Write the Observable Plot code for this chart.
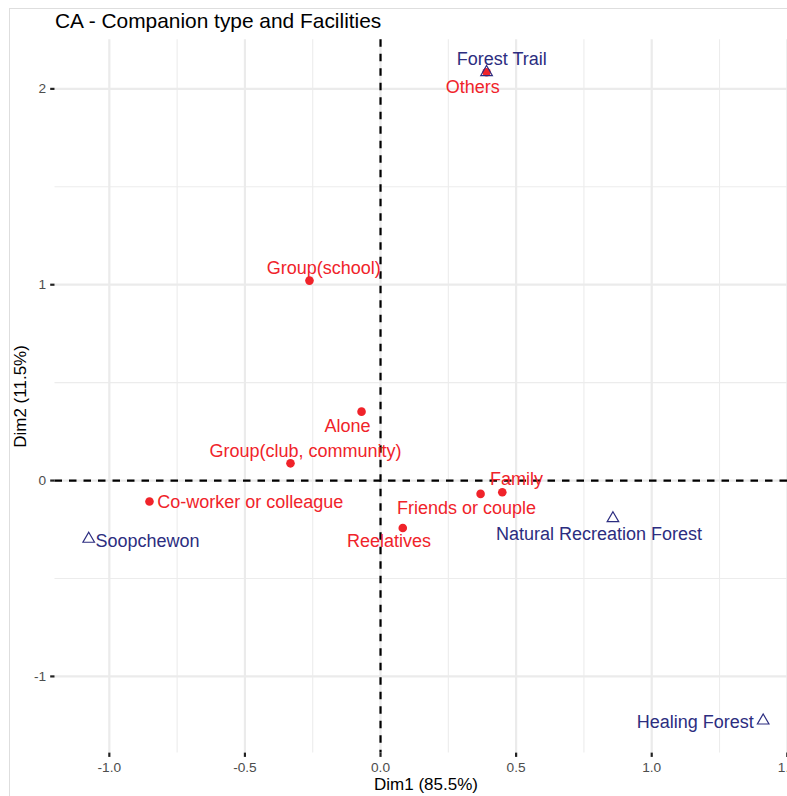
<!DOCTYPE html>
<html>
<head>
<meta charset="utf-8">
<script src="https://cdn.jsdelivr.net/npm/d3@7"></script>
<script src="https://cdn.jsdelivr.net/npm/@observablehq/plot@0.6"></script>
<style>
  html, body { margin: 0; padding: 0; overflow: hidden; background: #fff; width: 787px; height: 796px; }
  body { position: relative; font-family: "Liberation Sans", Arial, sans-serif; }
  #frame { position: absolute; left: 8.5px; top: 7.5px; width: 2000px; height: 2000px;
           border-left: 1px solid #dedede; border-top: 1px solid #dedede; }
  #title { position: absolute; left: 55px; top: 10.5px; font-size: 20.9px; line-height: 20.9px;
           color: #000; white-space: nowrap; }
  #chart { position: absolute; left: 0; top: 34px; width: 800px; }
  #chart svg { max-width: none !important; width: 800px !important; height: 762px !important; }
</style>
</head>
<body>
<div id="frame"></div>
<div id="title">CA - Companion type and Facilities</div>
<div id="chart"></div>
<script>
// ---- Data ----
const companionNames = ["Alone", "Family", "Friends or couple", "Reelatives",
  "Co-worker or colleague", "Group(school)", "Group(club, community)", "Others"];
const companionDim1 = [-0.070, 0.449, 0.369, 0.082, -0.852, -0.262, -0.332, 0.391];
const companionDim2 = [0.352, -0.060, -0.068, -0.242, -0.107, 1.021, 0.088, 2.085];

const facilityNames = ["Forest Trail", "Natural Recreation Forest", "Healing Forest", "Soopchewon"];
const facilityDim1 = [0.391, 0.857, 1.411, -1.076];
const facilityDim2 = [2.085, -0.193, -1.226, -0.298];

const xMajorTicks = [-1, -0.5, 0, 0.5, 1, 1.5];
const xMinorTicks = [-0.75, -0.25, 0.25, 0.75, 1.25];
const yMajorTicks = [-1, 0, 1, 2];
const yMinorTicks = [-0.5, 0.5, 1.5];

const xTitle = "Dim1 (85.5%)";
const yTitle = "Dim2 (11.5%)";

// ---- Label nudges (pixels: dx, dy, anchor) ----
const labelNudge = {
  "Alone": [-14, 15, "middle"],
  "Family": [14.3, -13, "middle"],
  "Friends or couple": [-14, 14, "middle"],
  "Reelatives": [-13.8, 13.4, "middle"],
  "Co-worker or colleague": [7.7, 1.2, "start"],
  "Group(school)": [14.3, -12.3, "middle"],
  "Group(club, community)": [15, -12, "middle"],
  "Others": [-13.7, 15.3, "middle"],
  "Forest Trail": [15.3, -12.7, "middle"],
  "Natural Recreation Forest": [-14, 15.5, "middle"],
  "Healing Forest": [-9.4, 1.2, "end"],
  "Soopchewon": [6.7, 2.4, "start"]
};

// ---- Build tables ----
const companions = companionNames.map((name, i) => ({name, x: companionDim1[i], y: companionDim2[i]}));
const facilities = facilityNames.map((name, i) => ({name, x: facilityDim1[i], y: facilityDim2[i]}));
const all = companions.concat(facilities);

function expand(vals) {
  const [a, b] = d3.extent(vals);
  const e = (b - a) * 0.05;
  return [a - e, b + e];
}
const xDomain = expand(all.map(d => d.x));
const yDomain = expand(all.map(d => d.y));

const RED = "#f0232a";
const BLUE = "#2c2d80";
const FONT = "Liberation Sans, Arial, sans-serif";

// Text marks with per-datum pixel nudges
function nudgedText(data, color, anchor) {
  const subset = data.filter(d => labelNudge[d.name][2] === anchor);
  return Plot.text(subset, {
    x: "x", y: "y", text: "name",
    textAnchor: anchor,
    fill: color, fontSize: 18, fontFamily: FONT,
    render(index, scales, values, dimensions, context, next) {
      const g = next(index, scales, values, dimensions, context);
      const texts = g.querySelectorAll("text");
      index.forEach((i, k) => {
        const [dx, dy] = labelNudge[subset[i].name];
        const t = texts[k];
        const tr = t.getAttribute("transform") || "";
        t.setAttribute("transform", `translate(${dx},${dy}) ` + tr);
      });
      return g;
    }
  });
}

const chart = Plot.plot({
  width: 800,
  height: 762,
  marginLeft: 54.5,
  marginRight: 3.6,
  marginTop: 5.3,
  marginBottom: 43.4,
  style: {fontFamily: FONT, background: "transparent", overflow: "visible", maxWidth: "none"},
  x: {domain: xDomain},
  y: {domain: yDomain},
  marks: [
    Plot.ruleX(xMinorTicks, {stroke: "#ececec", strokeWidth: 1.1}),
    Plot.ruleY(yMinorTicks, {stroke: "#ececec", strokeWidth: 1.1}),
    Plot.ruleX(xMajorTicks, {stroke: "#ebebeb", strokeWidth: 2.2}),
    Plot.ruleY(yMajorTicks, {stroke: "#ebebeb", strokeWidth: 2.2}),
    Plot.ruleX([0], {stroke: "#000", strokeWidth: 2.2, strokeDasharray: "7.5,7"}),
    Plot.ruleY([0], {stroke: "#000", strokeWidth: 2.2, strokeDasharray: "7.5,7"}),
    Plot.axisX({anchor: "bottom", ticks: xMajorTicks, tickSize: 4.3, tickPadding: 5,
      tickFormat: d => d.toFixed(1), label: null, fontSize: 13.7,
      fill: "#4d4d4d", stroke: "#222", strokeWidth: 2.2}),
    Plot.axisY({anchor: "left", ticks: yMajorTicks, tickSize: 4.3, tickPadding: 4.5,
      tickFormat: d => String(d), label: null, fontSize: 13.7,
      fill: "#4d4d4d", stroke: "#222", strokeWidth: 2.2}),
    Plot.text([xTitle], {frameAnchor: "bottom", text: d => d, dy: 31.5,
      lineAnchor: "middle", textAnchor: "middle",
      fontSize: 17, fill: "#000", fontFamily: FONT}),
    Plot.text([yTitle], {frameAnchor: "left", text: d => d, rotate: -90, dx: -34.5,
      lineAnchor: "middle", textAnchor: "middle",
      fontSize: 17, fill: "#000", fontFamily: FONT}),
    Plot.dot(companions, {x: "x", y: "y", r: 4.3, fill: RED, stroke: "none"}),
    Plot.dot(facilities, {x: "x", y: "y", symbol: "triangle", r: 4.3, fill: "none",
      stroke: BLUE, strokeWidth: 1.2}),
    nudgedText(companions, RED, "start"),
    nudgedText(companions, RED, "middle"),
    nudgedText(companions, RED, "end"),
    nudgedText(facilities, BLUE, "start"),
    nudgedText(facilities, BLUE, "middle"),
    nudgedText(facilities, BLUE, "end")
  ]
});
document.getElementById("chart").appendChild(chart);
</script>
</body>
</html>
